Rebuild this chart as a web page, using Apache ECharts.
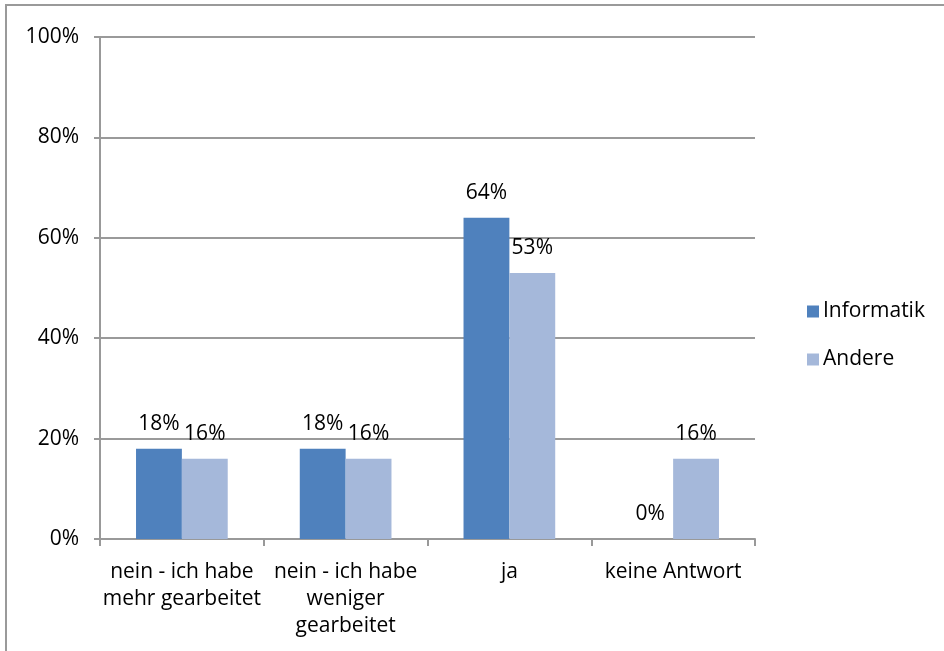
<!DOCTYPE html>
<html>
<head>
<meta charset="utf-8">
<script src="https://cdn.jsdelivr.net/npm/echarts@6/dist/echarts.min.js"></script>
<style>
  html, body { margin: 0; padding: 0; background: #fff; }
  #chart { width: 944px; height: 651px; }
</style>
</head>
<body>
<div id="chart"></div>
<script>
// Daten aus dem Diagramm
const categories = [
  "nein - ich habe\nmehr gearbeitet",
  "nein - ich habe\nweniger\ngearbeitet",
  "ja",
  "keine Antwort"
];
const informatik = [18, 18, 64, 0];
const andere = [16, 16, 53, 16];
const yTicks = [0, 20, 40, 60, 80, 100];

let myChart = echarts.init(document.getElementById("chart"));
const fontFamily = "'Open Sans', 'Noto Sans', sans-serif";
const fs = 21;

let option = {
  color: ["#4F81BD", "#A5B8DA"],
  textStyle: { fontFamily: fontFamily },
  animation: false,
  graphic: [
    // Rahmen des Diagrammbereichs (oben und links)
    {
      type: "polyline",
      shape: { points: [[6, 651], [6, 5], [944, 5]] },
      style: { stroke: "#9a9a9a", lineWidth: 2, fill: null }
    }
  ],
  grid: {
    left: 100,
    right: 189,
    top: 37,
    bottom: 112
  },
  legend: {
    orient: "vertical",
    left: 802,
    top: 296,
    itemWidth: 12,
    itemHeight: 12,
    itemGap: 27,
    icon: "rect",
    textStyle: { color: "#000", fontSize: fs, fontFamily: fontFamily, padding: [0, 0, 0, -1] },
    data: ["Informatik", "Andere"]
  },
  xAxis: {
    type: "category",
    data: categories,
    axisLine: { lineStyle: { color: "#999", width: 2 } },
    axisTick: { show: true, length: 7, lineStyle: { color: "#999", width: 2 } },
    axisLabel: {
      color: "#000",
      fontSize: fs,
      lineHeight: 27,
      margin: 20,
      interval: 0,
      fontFamily: fontFamily
    }
  },
  yAxis: {
    type: "value",
    min: yTicks[0],
    max: yTicks[yTicks.length - 1],
    interval: 20,
    axisLine: { show: true, lineStyle: { color: "#999", width: 2 } },
    axisTick: { show: true, length: 6, lineStyle: { color: "#999", width: 2 } },
    splitLine: { lineStyle: { color: "#9a9a9a", width: 2 } },
    axisLabel: {
      color: "#000",
      fontSize: fs,
      margin: 21,
      fontFamily: fontFamily,
      formatter: "{value}%"
    }
  },
  series: [
    {
      name: "Informatik",
      type: "bar",
      data: informatik,
      barGap: "0%",
      barCategoryGap: "44%",
      label: {
        show: true,
        position: "top",
        distance: 14,
        color: "#000",
        fontSize: fs,
        fontFamily: fontFamily,
        formatter: "{c}%"
      }
    },
    {
      name: "Andere",
      type: "bar",
      data: andere,
      barGap: "0%",
      barCategoryGap: "44%",
      label: {
        show: true,
        position: "top",
        distance: 14,
        color: "#000",
        fontSize: fs,
        fontFamily: fontFamily,
        formatter: "{c}%"
      }
    }
  ]
};
myChart.setOption(option);
</script>
</body>
</html>
